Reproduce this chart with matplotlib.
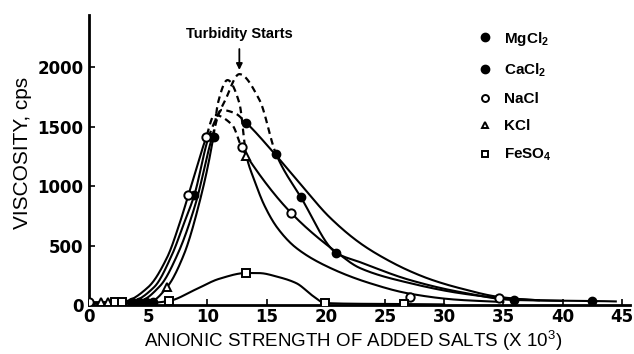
import numpy as np
import matplotlib
matplotlib.use('Agg')
import matplotlib.pyplot as plt
from matplotlib.lines import Line2D

plt.rcParams['font.family'] = ['Liberation Sans', 'DejaVu Sans']
plt.rcParams['mathtext.fontset'] = 'custom'
plt.rcParams['mathtext.rm'] = 'Liberation Sans:bold'
plt.rcParams['mathtext.default'] = 'rm'

# curve control points (x = anionic strength x 10^3, y = cps)
mg_x = [0, 2.0, 3.6, 5.5, 7.0, 8.0, 8.9, 10.1, 11.5, 12.7, 14.4, 15.8, 17.9, 20.9, 22.9, 27.1, 31.3, 35.9, 40, 42.5, 44.5]
mg_y = [20, 20, 30, 150, 420, 680, 925, 1410, 1720, 1940, 1723, 1269, 905, 437, 360, 210, 110, 42, 36, 34, 30]
mg_dash = (10.1, 15.8)

ca_x = [0, 2.5, 4.2, 6.0, 7.5, 9.0, 10.4, 11.2, 12.3, 13.3, 15.6, 18, 20.3, 22.9, 25, 27.1, 29, 31.3, 34.7, 38, 40]
ca_y = [20, 20, 30, 160, 430, 850, 1410, 1639, 1613, 1529, 1280, 1000, 740, 520, 390, 285, 210, 142, 67, 40, 35]
ca_dash = (10.4, 13.3)

na_x = [0, 1.5, 3.0, 5.0, 6.6, 7.7, 8.4, 9.9, 10.6, 12.1, 12.9, 13.4, 17.1, 20.9, 22.9, 27.1, 31.3, 34.7, 38]
na_y = [20, 20, 30, 150, 400, 700, 925, 1410, 1597, 1513, 1324, 1240, 771, 444, 310, 184, 100, 59, 40]
na_dash = (9.9, 12.9)

k_x = [0, 3.0, 5.2, 6.6, 8.0, 9.3, 10.5, 10.9, 11.7, 12.7, 13.3, 14.0, 14.8, 15.9, 17.5, 20.3, 23.7, 27.1, 31, 35]
k_y = [20, 20, 30, 151, 420, 850, 1410, 1700, 1890, 1697, 1252, 1040, 840, 650, 480, 315, 184, 95, 45, 25]
k_dash = (10.5, 13.3)

fe_x = [0, 3.0, 5.5, 6.8, 9.0, 11.0, 13.3, 14.4, 16.0, 17.5, 19.0, 19.9, 23, 26.6, 30]
fe_y = [15, 15, 20, 35, 130, 220, 269, 268, 235, 184, 70, 17, 10, 8, 5]

# measured points (markers)
mg_px = [3.6, 4.2, 8.9, 10.4, 15.8, 20.9, 42.5]
mg_py = [25, 25, 925, 1410, 1269, 437, 34]
ca_px = [4.8, 5.4, 10.6, 13.3, 17.9, 35.9]
ca_py = [25, 25, 1410, 1529, 905, 42]
na_px = [0, 8.4, 9.9, 12.9, 17.1, 27.1, 34.6]
na_py = [25, 925, 1410, 1324, 771, 67, 59]
k_px = [1.0, 1.6, 6.6, 13.3]
k_py = [25, 25, 151, 1252]
fe_px = [2.2, 2.8, 6.8, 13.3, 19.9, 26.6]
fe_py = [25, 25, 35, 269, 17, 8]

x_ticks = [0, 5, 10, 15, 20, 25, 30, 35, 40, 45]
y_ticks = [0, 500, 1000, 1500, 2000]


def pchip(xs, ys, n=600):
    # monotone cubic through the control points (no overshoot)
    x = np.asarray(xs, float)
    y = np.asarray(ys, float)
    h = np.diff(x)
    d = np.diff(y) / h
    m = np.zeros_like(x)
    for k in range(1, len(x) - 1):
        if d[k - 1] * d[k] > 0:
            w1 = 2 * h[k] + h[k - 1]
            w2 = h[k] + 2 * h[k - 1]
            m[k] = (w1 + w2) / (w1 / d[k - 1] + w2 / d[k])
    m[0] = d[0]
    m[-1] = d[-1]
    xx = np.linspace(x[0], x[-1], n)
    i = np.clip(np.searchsorted(x, xx) - 1, 0, len(x) - 2)
    t = (xx - x[i]) / h[i]
    h00 = 2 * t ** 3 - 3 * t ** 2 + 1
    h10 = t ** 3 - 2 * t ** 2 + t
    h01 = -2 * t ** 3 + 3 * t ** 2
    h11 = t ** 3 - t ** 2
    yy = h00 * y[i] + h10 * h[i] * m[i] + h01 * y[i + 1] + h11 * h[i] * m[i + 1]
    return xx, yy


def draw_curve(ax, xs, ys, dash=None):
    sx, sy = pchip(xs, ys)
    if dash is None:
        ax.plot(sx, sy, color='black', lw=1.5)
        return
    a, b = dash
    left = sx <= a
    mid = (sx >= a) & (sx <= b)
    right = sx >= b
    ax.plot(sx[left], sy[left], color='black', lw=1.5)
    ax.plot(sx[mid], sy[mid], color='black', lw=1.6, linestyle=(0, (3, 2)))
    ax.plot(sx[right], sy[right], color='black', lw=1.5)


fig = plt.figure(figsize=(6.34, 3.54), dpi=100)
ax = fig.add_axes([89 / 634, 1 - 305 / 354, (630 - 89) / 634, (305 - 15) / 354])

draw_curve(ax, mg_x, mg_y, mg_dash)
draw_curve(ax, ca_x, ca_y, ca_dash)
draw_curve(ax, na_x, na_y, na_dash)
draw_curve(ax, k_x, k_y, k_dash)
draw_curve(ax, fe_x, fe_y)

ax.plot(mg_px, mg_py, 'o', ms=6, color='black', zorder=5)
ax.plot(ca_px, ca_py, 'o', ms=6, color='black', zorder=5)
ax.plot(na_px, na_py, 'o', ms=6, mfc='white', mec='black', mew=1.4, zorder=5)
ax.plot(k_px, k_py, '^', ms=6, mfc='white', mec='black', mew=1.4, zorder=5)
ax.plot(fe_px, fe_py, 's', ms=5.5, mfc='white', mec='black', mew=1.4, zorder=5)

ax.annotate('Turbidity Starts', xy=(12.7, 1975), xytext=(12.7, 2280),
            ha='center', va='center', fontsize=10.5, fontweight='bold',
            arrowprops=dict(arrowstyle='-|>', color='black', lw=1.3,
                            mutation_scale=9, shrinkA=4, shrinkB=0))

handles = [
    Line2D([], [], ls='', marker='o', ms=6, color='black'),
    Line2D([], [], ls='', marker='o', ms=6, color='black'),
    Line2D([], [], ls='', marker='o', ms=5, mfc='white', mec='black', mew=1.4),
    Line2D([], [], ls='', marker='^', ms=5, mfc='white', mec='black', mew=1.4),
    Line2D([], [], ls='', marker='s', ms=5, mfc='white', mec='black', mew=1.4),
]
labels = ['MgCl$_2$', 'CaCl$_2$', 'NaCl', 'KCl', 'FeSO$_4$']
leg = ax.legend(handles, labels, loc='upper left', bbox_to_anchor=(464 / 634, 1 - 16 / 354),
                bbox_transform=fig.transFigure, frameon=False, handlelength=1.0,
                handletextpad=0.7, labelspacing=0.88,
                prop=dict(weight='bold', size=11))

ax.set_xlim(0, 45.7)
ax.set_ylim(0, 2437)
ax.set_xticks(x_ticks)
ax.set_yticks(y_ticks)
ax.tick_params(direction='in', length=4, width=1.2)
for lab in ax.get_xticklabels() + ax.get_yticklabels():
    lab.set_family('DejaVu Sans')
    lab.set_fontweight('bold')
    lab.set_fontsize(12)
ax.tick_params(axis='x', pad=2.5)
ax.tick_params(axis='y', pad=4)
ax.spines['top'].set_visible(False)
ax.spines['right'].set_visible(False)
ax.spines['left'].set_linewidth(2)
ax.spines['bottom'].set_linewidth(2)

ax.set_xlabel('ANIONIC STRENGTH OF ADDED SALTS (X 10$^{\\mathregular{3}}$)', fontsize=13.5)
ax.xaxis.set_label_coords(0.488, -0.083)
ax.set_ylabel('VISCOSITY, cps', fontsize=15)
ax.yaxis.set_label_coords(-0.105, 0.524)

fig.savefig('out.png', dpi=100)
